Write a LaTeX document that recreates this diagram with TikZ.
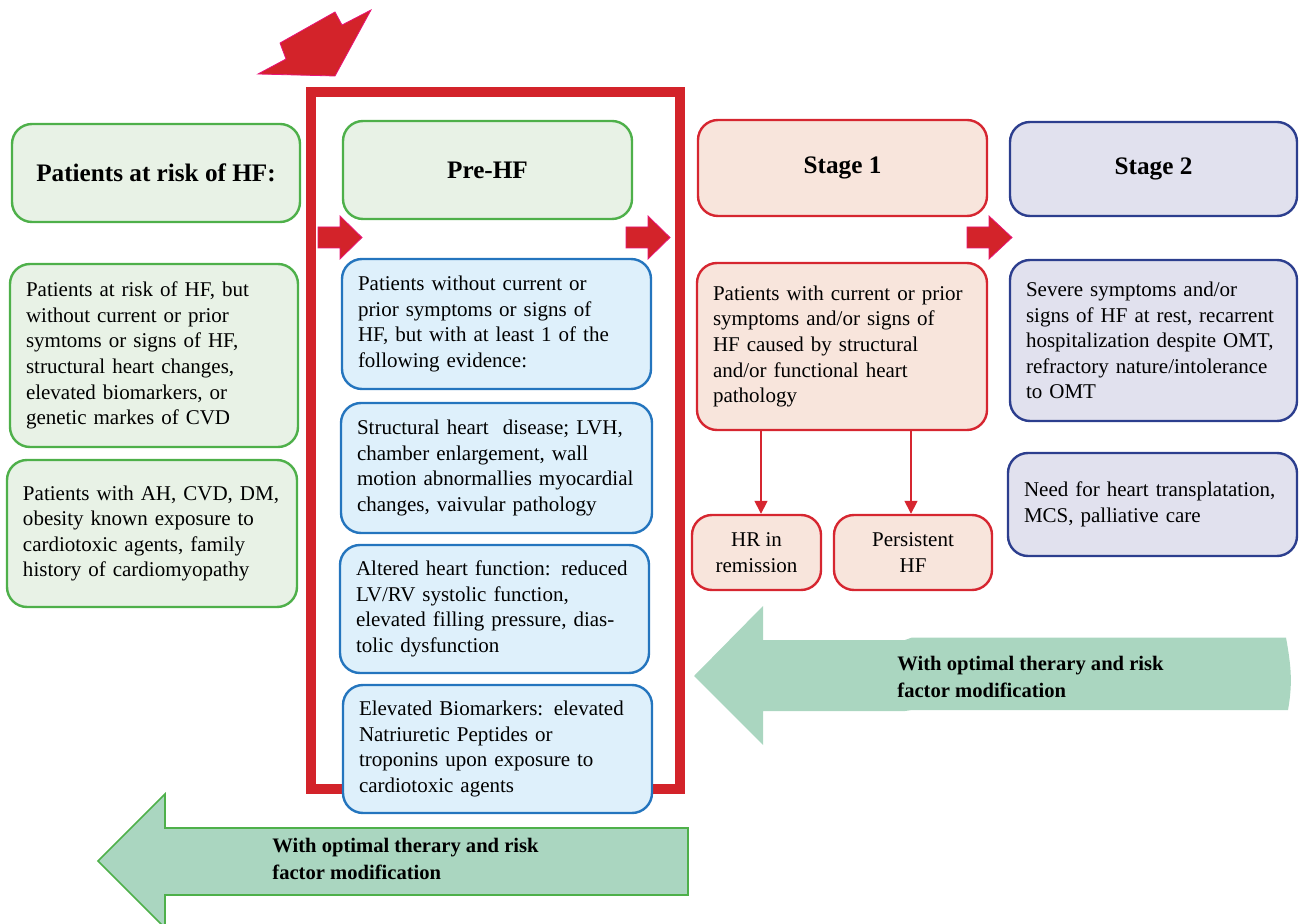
\documentclass[tikz,border=0pt]{standalone}
\usepackage{fontspec}
\setmainfont{Liberation Serif}
\usetikzlibrary{arrows.meta}
\definecolor{grnB}{RGB}{78,176,74}
\definecolor{grnF}{RGB}{232,242,230}
\definecolor{bluB}{RGB}{36,117,190}
\definecolor{bluF}{RGB}{222,240,251}
\definecolor{redB}{RGB}{214,38,48}
\definecolor{redF}{RGB}{248,229,220}
\definecolor{navB}{RGB}{44,62,142}
\definecolor{navF}{RGB}{225,225,238}
\definecolor{frameR}{RGB}{211,35,42}
\definecolor{edgeM}{RGB}{232,20,120}
\definecolor{arrG}{RGB}{170,214,192}
\tikzset{
  box/.style={rounded corners=10pt, line width=1.2pt, inner xsep=8pt, inner ysep=0pt,
    font=\fontsize{10.5}{12.8}\selectfont, align=left},
  head/.style={box, align=center, font=\bfseries\fontsize{12.6}{15}\selectfont},
  small/.style={box, align=center},
  gbox/.style={draw=grnB, fill=grnF},
  bbox/.style={draw=bluB, fill=bluF},
  rbox/.style={draw=redB, fill=redF},
  nbox/.style={draw=navB, fill=navF},
  redarrow/.style={fill=frameR, draw=edgeM, line width=0.4pt},
  greenarrow/.style={fill=arrG},
  arrtext/.style={font=\bfseries\fontsize{10.3}{13.5}\selectfont, align=left, anchor=west, inner sep=0pt},
  conn/.style={draw=redB, line width=0.8pt, -{Triangle[width=6.5pt,length=6.5pt]}}
}
\begin{document}
\begin{tikzpicture}[x=0.5pt,y=-0.5pt]
\useasboundingbox (0,0) rectangle (1300,924);

% top big arrow
\draw[redarrow] (258,74) -- (286,59) -- (280,43) -- (335,12) -- (342,25) -- (371,10) -- (335,76) -- cycle;

% red frame
\draw[frameR, line width=5pt] (310.5,92) rectangle (680,788.5);

% green arrows
\path[greenarrow] (694,676) -- (763,606) -- (763,640) -- (905,640) -- (912,637.5) -- (1286,637.5)
  to[out=-80,in=80] (1288,710) -- (912,710) -- (905,711) -- (763,711) -- (763,745) -- cycle;
\draw[greenarrow, draw=grnB, line width=0.8pt] (98,861) -- (165,794) -- (165,828) -- (688,828) -- (688,895) -- (165,895) -- (165,928) -- cycle;
\node[arrtext] (txtR) at (897,677) {With optimal therary and risk\\factor modification};
\node[arrtext] (txtL) at (272,859) {With optimal therary and risk\\factor modification};

% left column
\node[head, gbox, minimum width=144pt, minimum height=49pt] (riskH) at (156,173) {Patients at risk of HF:};
\node[box, gbox, minimum width=144pt, minimum height=91.5pt, text width=128pt] (risk1) at (154,355.5)
  {Patients at risk of HF, but\\without current or prior\\symtoms or signs of HF,\\structural heart changes,\\elevated biomarkers, or\\genetic markes of CVD};
\node[box, gbox, minimum width=145pt, minimum height=73.5pt, text width=129pt] (risk2) at (152,533.5)
  {Patients with AH, CVD, DM,\\obesity known exposure to\\cardiotoxic agents, family\\history of cardiomyopathy};

% pre-HF column
\node[head, gbox, minimum width=144.5pt, minimum height=49pt] (preH) at (487.5,170) {Pre-HF};
\node[box, bbox, minimum width=154.5pt, minimum height=65pt, text width=138.5pt] (pre1) at (496.5,324)
  {Patients without current or\\prior symptoms or signs of\\HF, but with at least 1 of the\\following evidence:};
\node[box, bbox, minimum width=155.5pt, minimum height=65pt, text width=139.5pt] (pre2) at (496.5,468)
  {Structural heart\ \ disease; LVH,\\chamber enlargement, wall\\motion abnormallies myocardial\\changes, vaivular pathology};
\node[box, bbox, minimum width=154.5pt, minimum height=64pt, text width=138.5pt] (pre3) at (494.5,609)
  {Altered heart function: reduced\\LV/RV systolic function,\\elevated filling pressure, dias-\\tolic dysfunction};
\node[box, bbox, minimum width=154.5pt, minimum height=64pt, text width=138.5pt] (pre4) at (497.5,749)
  {Elevated Biomarkers: elevated\\Natriuretic Peptides or\\troponins upon exposure to\\cardiotoxic agents};

% stage 1
\node[head, rbox, minimum width=144.5pt, minimum height=48pt] (s1H) at (842.5,168) {Stage 1};
\node[box, rbox, minimum width=145pt, minimum height=83.5pt, text width=129pt] (s1a) at (842,346.5)
  {Patients with current or prior\\symptoms and/or signs of\\HF caused by structural\\and/or functional heart\\pathology};
\node[small, rbox, minimum width=64.5pt, minimum height=37.5pt] (hr) at (756.5,552.5) {HR in\\remission};
\node[small, rbox, minimum width=79pt, minimum height=37.5pt] (pers) at (913,552.5) {Persistent\\HF};
\draw[conn] ([xshift=2.25pt]hr.north |- s1a.south) -- ([xshift=2.25pt]hr.north);
\draw[conn] ([xshift=-1pt]pers.north |- s1a.south) -- ([xshift=-1pt]pers.north);

% stage 2
\node[head, nbox, minimum width=143.5pt, minimum height=47pt] (s2H) at (1153.5,169) {Stage 2};
\node[box, nbox, minimum width=143.5pt, minimum height=80.5pt, text width=127.5pt] (s2a) at (1153.5,340.5)
  {Severe symptoms and/or\\signs of HF at rest, recarrent\\hospitalization despite OMT,\\refractory nature/intolerance\\to OMT};
\node[box, nbox, minimum width=144.5pt, minimum height=51.5pt, text width=128.5pt] (s2b) at (1152.5,504.5)
  {Need for heart transplatation,\\MCS, palliative care};

% small red arrows
\draw[redarrow] (318,227) -- (340,227) -- (340,216) -- (362,237.5) -- (340,259) -- (340,248) -- (318,248) -- cycle;
\draw[redarrow] (626,227) -- (648,227) -- (648,216) -- (670,237.5) -- (648,259) -- (648,248) -- (626,248) -- cycle;
\draw[redarrow] (967,227) -- (989,227) -- (989,216) -- (1012,237.5) -- (989,259) -- (989,248) -- (967,248) -- cycle;
\end{tikzpicture}
\end{document}
